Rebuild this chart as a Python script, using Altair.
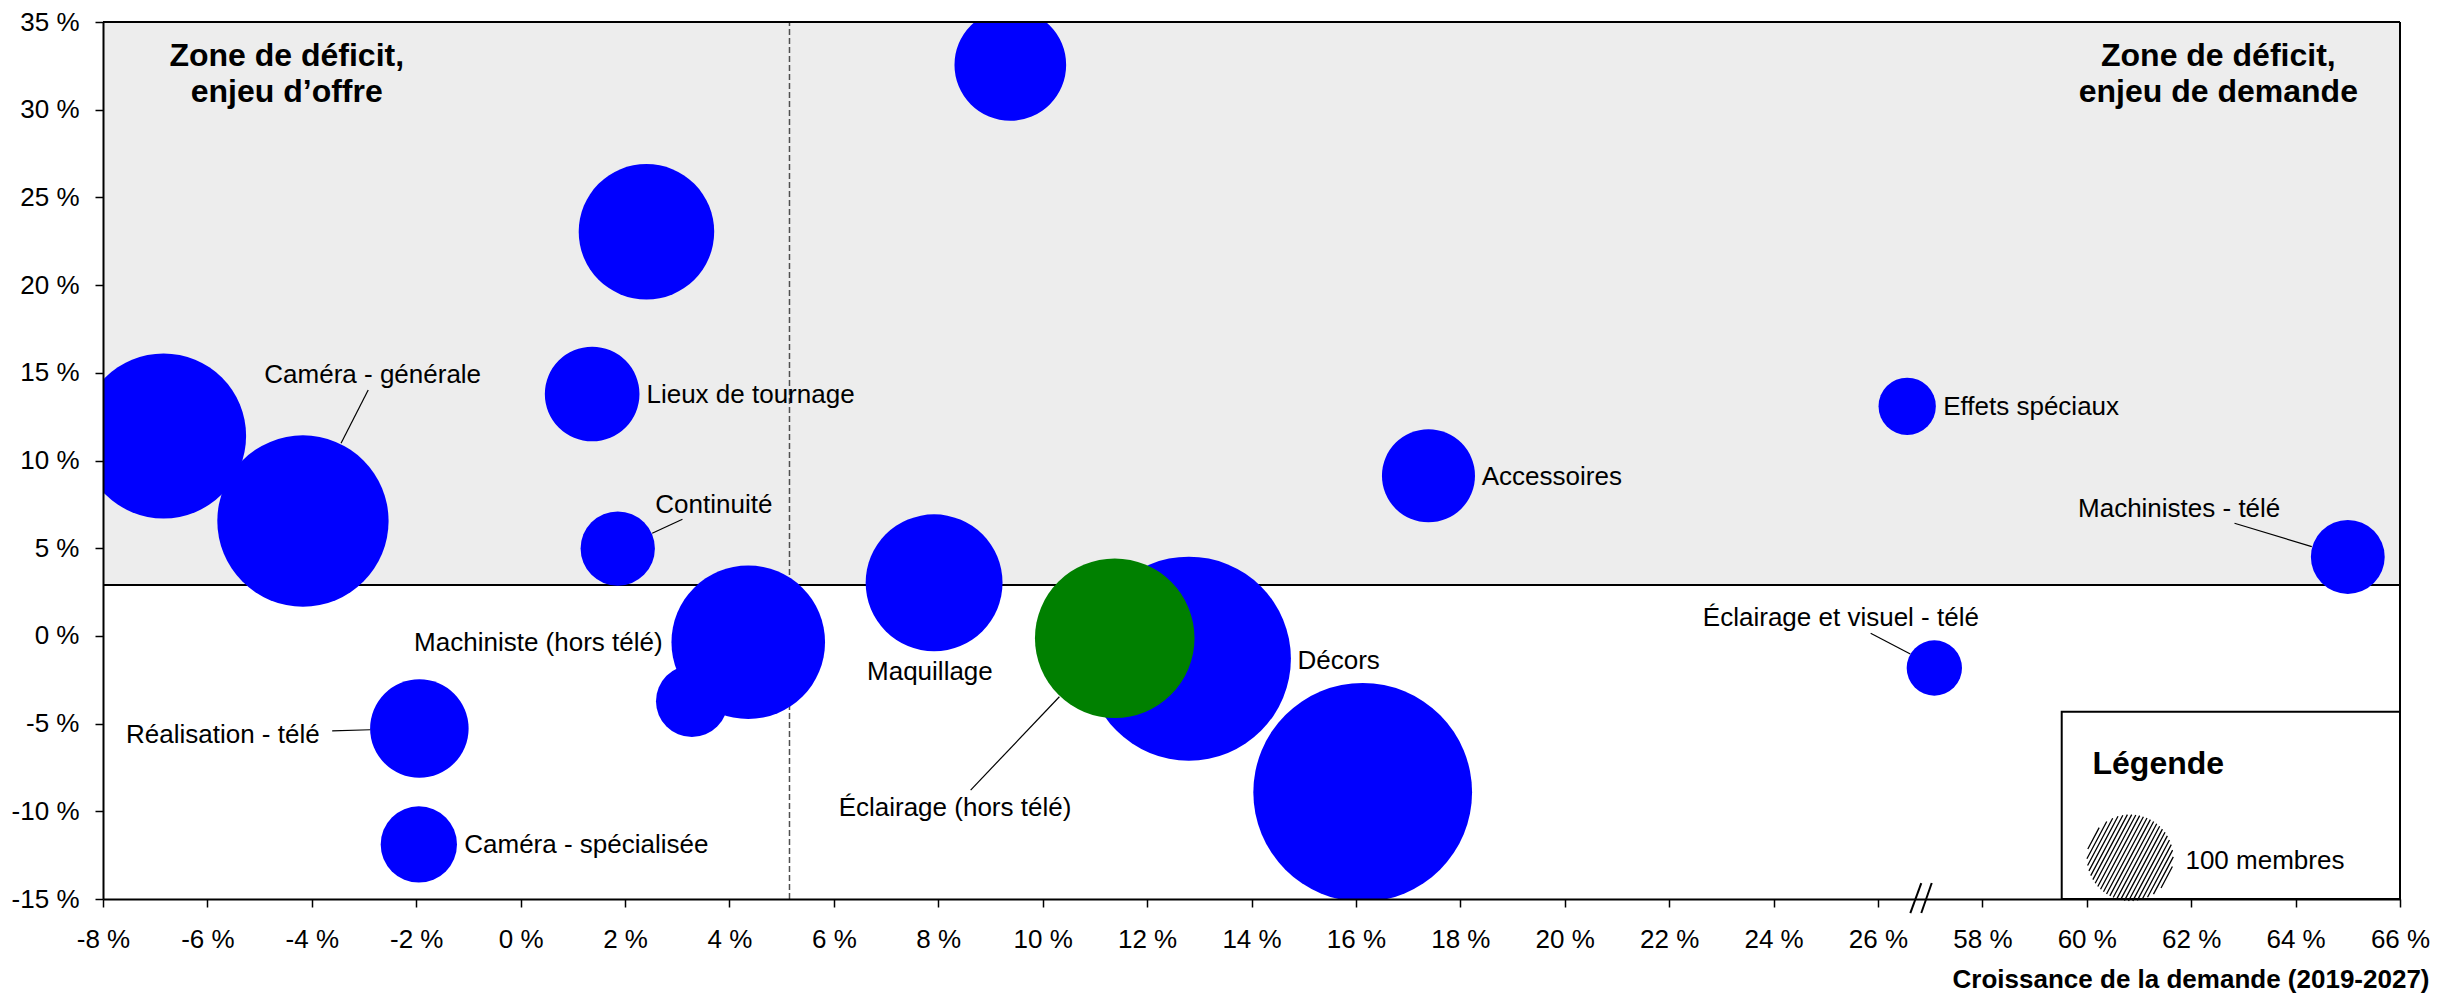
import math
import altair as alt
import pandas as pd

# ---------------- Données des bulles ----------------
metiers = ["Caméra - générale", "Métier A", "Métier B", "Métier C", "Lieux de tournage",
           "Continuité", "Réalisation - télé", "Caméra - spécialisée", "Machiniste (hors télé)",
           "Métier D", "Maquillage", "Décors", "Métier E", "Accessoires", "Effets spéciaux",
           "Éclairage et visuel - télé", "Machinistes - télé", "Éclairage (hors télé)"]
croissance = [-4.17, -6.84, 2.41, 9.38, 1.37, 1.86, -1.94, -1.95, 4.36, 3.28, 7.92,
              12.80, 16.13, 17.39, 26.56, 57.08, 65.00, 11.38]
deficit = [6.55, 11.40, 23.04, 32.55, 13.79, 4.98, -5.28, -11.89, -0.36, -3.72, 3.03,
           -1.30, -8.92, 9.13, 13.09, -1.83, 4.50, -0.13]
membres = [393, 365, 246, 167, 120, 74, 130, 78, 316, 69, 251, 558, 641, 116, 44, 41, 73, 341]
groupe = ["bleu"] * 17 + ["vert"]

# ---------------- Étiquettes ----------------
lab_left_txt = ["Caméra - générale", "Lieux de tournage", "Continuité", "Caméra - spécialisée",
                "Décors", "Accessoires", "Effets spéciaux"]
lab_left_x = [-4.91, 2.41, 2.58, -1.08, 14.88, 18.41, 27.25]
lab_left_y = [14.87, 13.73, 7.44, -11.92, -1.43, 9.08, 13.03]

lab_right_txt = ["Réalisation - télé", "Machiniste (hors télé)"]
lab_right_x = [-3.85, 2.72]
lab_right_y = [-5.65, -0.42]

lab_center_txt = ["Maquillage", "Éclairage (hors télé)", "Éclairage et visuel - télé", "Machinistes - télé"]
lab_center_x = [7.84, 8.32, 25.29, 61.77]
lab_center_y = [-2.04, -9.83, 1.0, 7.23]

# traits de rappel
lead_x1 = [-2.92, 3.10, -3.61, 8.62, 25.86, 62.83]
lead_y1 = [14.02, 6.65, -5.41, -8.79, 0.15, 6.42]
lead_x2 = [-3.44, 2.52, -2.88, 10.32, 26.62, 64.31]
lead_y2 = [10.98, 5.85, -5.35, -3.47, -1.03, 5.09]

zone_txt = ["Zone de déficit,\nenjeu d’offre", "Zone de déficit,\nenjeu de demande"]
zone_x = [-4.48, 62.52]
zone_y = [32.5, 32.5]

# seuils
seuil_offre = 2.9      # ligne horizontale
seuil_demande = 5.15   # ligne pointillée verticale

# axes
x_ticks = [-8, -6, -4, -2, 0, 2, 4, 6, 8, 10, 12, 14, 16, 18, 20, 22, 24, 26, 58, 60, 62, 64, 66]
y_ticks = [-15, -10, -5, 0, 5, 10, 15, 20, 25, 30, 35]
x_min, x_max = -8, 66
y_min, y_max = -15, 35

# légende
leg_box = dict(x1=59.52, x2=66, y1=-15, y2=-4.32)
leg_title = ("Légende", 60.11, -7.87)
leg_item = ("100 membres", 61.89, -12.85)
leg_symbol = (60.83, -12.65, 100)

# coupure d'axe
brk_x1 = [26.62, 26.83]
brk_x2 = [26.83, 27.03]
brk_y1 = [-15.8, -15.8]
brk_y2 = [-14.09, -14.09]

POS = "datum.{f} > 40 ? datum.{f} - 30 : datum.{f}"
FONT = "Liberation Sans"

def pos_of(v):
    return v - 30 if v > 40 else v

xscale = alt.Scale(domain=[pos_of(x_min), pos_of(x_max)], nice=False, zero=False)
yscale = alt.Scale(domain=[y_min, y_max], nice=False, zero=False)
xaxis = alt.Axis(values=[pos_of(v) for v in x_ticks],
                 labelExpr="(datum.value > 27 ? datum.value + 30 : datum.value) + ' %'",
                 title="Croissance de la demande (2019-2027)",
                 titleFont=FONT, titleFontSize=26, titleFontWeight="bold", titleColor="black",
                 titleAnchor="end", titleAlign="right", titleBaseline="alphabetic",
                 titleX=2326, titleY=88,
                 labelFont=FONT, labelFontSize=26, labelColor="black",
                 labelFlush=False, labelOverlap=False, labelPadding=19, tickSize=8,
                 grid=False, zindex=1)
yaxis = alt.Axis(values=y_ticks, labelExpr="datum.value + ' %'", title=None,
                 labelFont=FONT, labelFontSize=26, labelColor="black",
                 labelFlush=False, labelOverlap=False, labelPadding=16, tickSize=8,
                 grid=False, zindex=1)

def X(f):
    return alt.X(f, type="quantitative", scale=xscale, axis=xaxis)

def Y(f):
    return alt.Y(f, type="quantitative", scale=yscale, axis=yaxis)

size_scale = alt.Scale(type="linear", domain=[0, 1000], range=[0, 4 * 43.2 ** 2 * 10])

# ---------------- Couches ----------------
zone_df = pd.DataFrame({"a": [x_min], "b": [x_max], "c": [seuil_offre], "d": [y_max]})
zone = alt.Chart(zone_df).transform_calculate(pa=POS.format(f="a"), pb=POS.format(f="b")).mark_rect(
    color="#EDEDED").encode(x=X("pa"), x2="pb", y=Y("c"), y2="d")

vline_df = pd.DataFrame({"a": [seuil_demande], "c": [y_min], "d": [y_max]})
vline = alt.Chart(vline_df).mark_rule(color="#505050", strokeDash=[6, 3], strokeWidth=1.5).encode(
    x=X("a"), y=Y("c"), y2="d")

hline_df = pd.DataFrame({"a": [x_min], "b": [x_max], "c": [seuil_offre]})
hline = alt.Chart(hline_df).transform_calculate(pa=POS.format(f="a"), pb=POS.format(f="b")).mark_rule(
    color="black", strokeWidth=2).encode(x=X("pa"), x2="pb", y=Y("c"))

bdf = pd.DataFrame({"metier": metiers, "x": croissance, "y": deficit, "membres": membres,
                    "groupe": groupe, "ordre": list(range(len(metiers)))})
bubbles = alt.Chart(bdf).transform_calculate(pos=POS.format(f="x")).mark_circle(
    opacity=1, clip=True).encode(
    x=X("pos"), y=Y("y"),
    size=alt.Size("membres:Q", scale=size_scale, legend=None),
    color=alt.Color("groupe:N", scale=alt.Scale(domain=["bleu", "vert"], range=["#0000FF", "#008000"]),
                    legend=None),
    order=alt.Order("ordre:Q"))

def labels(txt, xs, ys, align):
    df = pd.DataFrame({"t": txt, "x": xs, "y": ys})
    return alt.Chart(df).transform_calculate(pos=POS.format(f="x")).mark_text(
        align=align, baseline="middle", font=FONT, fontSize=26, color="black").encode(
        x=X("pos"), y=Y("y"), text="t:N")

lab_l = labels(lab_left_txt, lab_left_x, lab_left_y, "left")
lab_r = labels(lab_right_txt, lab_right_x, lab_right_y, "right")
lab_c = labels(lab_center_txt, lab_center_x, lab_center_y, "center")

lead_df = pd.DataFrame({"a": lead_x1, "b": lead_x2, "c": lead_y1, "d": lead_y2})
leads = alt.Chart(lead_df).transform_calculate(pa=POS.format(f="a"), pb=POS.format(f="b")).mark_rule(
    color="black", strokeWidth=1.2).encode(x=X("pa"), x2="pb", y=Y("c"), y2="d")

zone_df2 = pd.DataFrame({"t": zone_txt, "x": zone_x, "y": zone_y})
zones = alt.Chart(zone_df2).transform_calculate(pos=POS.format(f="x")).mark_text(
    align="center", baseline="alphabetic", font=FONT, fontSize=32, fontWeight="bold",
    lineBreak="\n", lineHeight=36, color="black").encode(x=X("pos"), y=Y("y"), text="t:N")

# légende
box_df = pd.DataFrame({"a": [leg_box["x1"]], "b": [leg_box["x2"]], "c": [leg_box["y1"]], "d": [leg_box["y2"]]})
box = alt.Chart(box_df).transform_calculate(pa=POS.format(f="a"), pb=POS.format(f="b")).mark_rect(
    fill="white", stroke="black", strokeWidth=2).encode(x=X("pa"), x2="pb", y=Y("c"), y2="d")

lt_df = pd.DataFrame({"t": [leg_title[0]], "x": [leg_title[1]], "y": [leg_title[2]]})
leg_t = alt.Chart(lt_df).transform_calculate(pos=POS.format(f="x")).mark_text(
    align="left", baseline="alphabetic", font=FONT, fontSize=32, fontWeight="bold", color="black").encode(
    x=X("pos"), y=Y("y"), text="t:N")

li_df = pd.DataFrame({"t": [leg_item[0]], "x": [leg_item[1]], "y": [leg_item[2]]})
leg_i = alt.Chart(li_df).transform_calculate(pos=POS.format(f="x")).mark_text(
    align="left", baseline="middle", font=FONT, fontSize=26, color="black").encode(
    x=X("pos"), y=Y("y"), text="t:N")

# symbole hachuré (forme du symbole dans le carré unité)
theta = math.radians(62)
ux, uy = math.cos(theta), -math.sin(theta)
nx, ny = math.sin(theta), math.cos(theta)
nlines = 23
segs = []
for i in range(nlines):
    d = -0.96 + i * (1.92 / (nlines - 1))
    h = math.sqrt(max(0.0, 1 - d * d))
    segs.append("M{:.3f},{:.3f}L{:.3f},{:.3f}".format(d * nx - h * ux, d * ny - h * uy,
                                                      d * nx + h * ux, d * ny + h * uy))
hatch_path = "".join(segs)

ls_df = pd.DataFrame({"x": [leg_symbol[0]], "y": [leg_symbol[1]], "membres": [leg_symbol[2]]})
leg_s = alt.Chart(ls_df).transform_calculate(pos=POS.format(f="x")).mark_point(
    shape=hatch_path, filled=False, stroke="black", strokeWidth=1.3, opacity=1).encode(
    x=X("pos"), y=Y("y"), size=alt.Size("membres:Q", scale=size_scale, legend=None))

brk_df = pd.DataFrame({"a": brk_x1, "b": brk_x2, "c": brk_y1, "d": brk_y2})
brk = alt.Chart(brk_df).mark_rule(color="black", strokeWidth=2, clip=False).encode(
    x=X("a"), x2="b", y=Y("c"), y2="d")

top_df = pd.DataFrame({"a": [x_min], "b": [x_max], "c": [y_max]})
top = alt.Chart(top_df).transform_calculate(pa=POS.format(f="a"), pb=POS.format(f="b")).mark_rule(
    color="black", strokeWidth=2).encode(x=X("pa"), x2="pb", y=Y("c"))
right_df = pd.DataFrame({"a": [x_max], "c": [y_min], "d": [y_max]})
right = alt.Chart(right_df).transform_calculate(pa=POS.format(f="a")).mark_rule(
    color="black", strokeWidth=2).encode(x=X("pa"), y=Y("c"), y2="d")

chart = alt.layer(zone, vline, hline, bubbles, lab_l, lab_r, lab_c, leads, zones,
                  box, leg_t, leg_i, leg_s, brk, top, right).properties(
    width=2297, height=877,
    background="white",
    autosize=alt.AutoSizeParams(type="none"),
    padding={"left": 95, "top": 14, "right": 30, "bottom": 94},
).configure_view(stroke="transparent").configure_axis(
    labelFont=FONT, labelFontSize=26, labelColor="black",
    domainColor="black", domainWidth=2, tickColor="black", tickWidth=1.5,
)

chart.save("out.html", embed_options={"renderer": "svg", "actions": False})
